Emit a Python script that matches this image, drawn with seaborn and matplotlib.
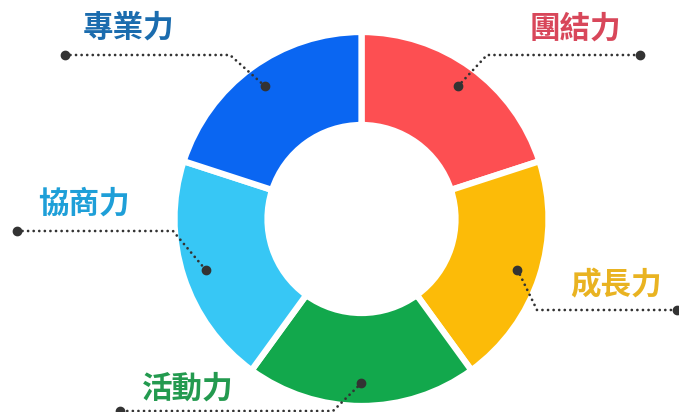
import numpy as np
import matplotlib
matplotlib.use("Agg")
import matplotlib.pyplot as plt
import seaborn as sns

# ---- data ----
labels = ["團結力", "成長力", "活動力", "協商力", "專業力"]
values = [1, 1, 1, 1, 1]
wedge_colors = ["#fd4f52", "#fcbb08", "#12a84c", "#37c7f5", "#0a66f2"]
label_colors = ["#d8475a", "#e9b321", "#239a4f", "#1e9fd8", "#1b6cae"]

sns.set_theme(style="white")
plt.rcParams['font.family'] = ['Noto Sans CJK TC', 'DejaVu Sans']

W, H = 679, 412
fig = plt.figure(figsize=(W / 100, H / 100), dpi=100)
ax = fig.add_axes([0, 0, 1, 1])

cx, cy = 361.5, H - 219
R = 187
ring = 93

wedges, _ = ax.pie(values, colors=sns.color_palette(wedge_colors), startangle=90,
                   counterclock=False, radius=R, center=(cx, cy),
                   wedgeprops=dict(width=ring, edgecolor="white", linewidth=4.5),
                   frame=True)
ax.set_xlim(0, W)
ax.set_ylim(0, H)
ax.axis("off")

# layout of leaders (pixel coords, y from top): elbow, end x, text center
layout = {
    "團結力": dict(elbow=(487, 55), end=640, text=(575, 29)),
    "成長力": dict(elbow=(537, 310), end=677, text=(616, 285)),
    "活動力": dict(elbow=(333, 411), end=120, text=(188, 389)),
    "協商力": dict(elbow=(173, 231), end=17, text=(84, 204)),
    "專業力": dict(elbow=(230, 55), end=65, text=(128, 28)),
}

dot_r = 164
for w, lab, col in zip(wedges, labels, label_colors):
    mid = np.deg2rad((w.theta1 + w.theta2) / 2)
    x0 = cx + dot_r * np.cos(mid)
    y0 = cy + dot_r * np.sin(mid)
    L = layout[lab]
    ex, ey = L["elbow"][0], H - L["elbow"][1]
    xe = L["end"]
    ax.plot([x0, ex, xe], [y0, ey, ey], color="#333333", lw=2.0,
            linestyle=(0, (0.01, 2.0)), dash_capstyle="round", zorder=5,
            clip_on=False)
    ax.plot([x0, xe], [y0, ey], "o", color="#333333", ms=6, zorder=6,
            clip_on=False)
    tx, ty = L["text"]
    ax.text(tx, H - ty, lab, color=col, fontsize=22, fontweight="heavy",
            ha="center", va="center")

fig.savefig("out.png", dpi=100, facecolor="white")
